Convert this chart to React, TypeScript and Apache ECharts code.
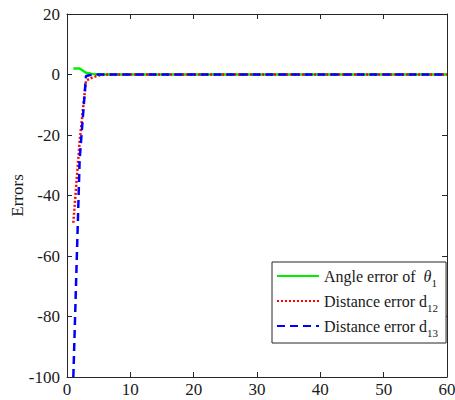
import React, { useEffect, useRef } from "react";
import * as echarts from "echarts";

const xValues = [
  1, 2, 3, 4, 5, 6, 7, 8, 9, 10, 11, 12, 13, 14, 15, 16, 17, 18, 19, 20,
  21, 22, 23, 24, 25, 26, 27, 28, 29, 30, 31, 32, 33, 34, 35, 36, 37, 38, 39, 40,
  41, 42, 43, 44, 45, 46, 47, 48, 49, 50, 51, 52, 53, 54, 55, 56, 57, 58, 59, 60,
];
const angleError = [
  2, 2, 0.6, 0.2, 0.1, 0, 0, 0, 0, 0, 0, 0, 0, 0, 0, 0, 0, 0, 0, 0,
  0, 0, 0, 0, 0, 0, 0, 0, 0, 0, 0, 0, 0, 0, 0, 0, 0, 0, 0, 0,
  0, 0, 0, 0, 0, 0, 0, 0, 0, 0, 0, 0, 0, 0, 0, 0, 0, 0, 0, 0,
];
const distError12 = [
  -49, -22, -2, -1, -0.3, 0, 0, 0, 0, 0, 0, 0, 0, 0, 0, 0, 0, 0, 0, 0,
  0, 0, 0, 0, 0, 0, 0, 0, 0, 0, 0, 0, 0, 0, 0, 0, 0, 0, 0, 0,
  0, 0, 0, 0, 0, 0, 0, 0, 0, 0, 0, 0, 0, 0, 0, 0, 0, 0, 0, 0,
];
const distError13 = [
  -100, -28, -0.5, 0, 0, 0, 0, 0, 0, 0, 0, 0, 0, 0, 0, 0, 0, 0, 0, 0,
  0, 0, 0, 0, 0, 0, 0, 0, 0, 0, 0, 0, 0, 0, 0, 0, 0, 0, 0, 0,
  0, 0, 0, 0, 0, 0, 0, 0, 0, 0, 0, 0, 0, 0, 0, 0, 0, 0, 0, 0,
];
const seriesNames = ["Angle error of θ1", "Distance error d12", "Distance error d13"];
const yAxisName = "Errors";

const FONT = "'Liberation Serif', 'Times New Roman', serif";
const AXIS_COLOR = "#262626";
const TEXT_COLOR = "#1a1a1a";

function pairs(ys: number[]) {
  return xValues.map((x, i) => [x, ys[i]]);
}

export default function App() {
  const ref = useRef<HTMLDivElement>(null);
  useEffect(() => {
    const chart = echarts.init(ref.current!, null, { renderer: "svg" });
    const axisCommon = {
      axisLine: { show: true, onZero: false, lineStyle: { color: AXIS_COLOR, width: 1 } },
      axisTick: { show: true, inside: true, length: 5, lineStyle: { color: AXIS_COLOR } },
      splitLine: { show: false },
    };
    chart.setOption({
      animation: false,
      backgroundColor: "#ffffff",
      grid: { left: 67, right: 8, top: 14, bottom: 23, containLabel: false, outerBoundsMode: "none" },
      xAxis: [
        {
          type: "value",
          min: 0,
          max: 60,
          interval: 10,
          ...axisCommon,
          axisLabel: { color: TEXT_COLOR, fontFamily: FONT, fontSize: 17, margin: 4 },
        },
        {
          type: "value",
          position: "top",
          min: 0,
          max: 60,
          interval: 10,
          ...axisCommon,
          axisLabel: { show: false },
        },
      ],
      yAxis: [
        {
          type: "value",
          min: -100,
          max: 20,
          interval: 20,
          name: yAxisName,
          nameLocation: "middle",
          nameGap: 41,
          nameMoveOverlap: false,
          nameTextStyle: { color: TEXT_COLOR, fontFamily: FONT, fontSize: 17 },
          ...axisCommon,
          axisLabel: { color: TEXT_COLOR, fontFamily: FONT, fontSize: 17, margin: 7 },
        },
        {
          type: "value",
          position: "right",
          min: -100,
          max: 20,
          interval: 20,
          ...axisCommon,
          axisLabel: { show: false },
        },
      ],
      legend: {
        left: 272,
        top: 262,
        orient: "vertical",
        backgroundColor: "#ffffff",
        borderColor: AXIS_COLOR,
        borderWidth: 1,
        padding: [6, 8, 5, 4],
        itemGap: 5,
        itemWidth: 42,
        itemHeight: 16,
        itemStyle: { opacity: 0 },
        textStyle: {
          fontFamily: FONT,
          fontSize: 16,
          color: TEXT_COLOR,
          rich: {
            t: { fontFamily: FONT, fontSize: 16, color: TEXT_COLOR },
            th: { fontFamily: FONT, fontSize: 16, fontStyle: "italic", color: TEXT_COLOR },
            s: { fontFamily: FONT, fontSize: 11, color: TEXT_COLOR, padding: [13, 0, 0, 0] },
          },
        },
        formatter: (name: string) => {
          if (name === seriesNames[0]) return "{t|Angle error of  }{th|θ}{s|1}";
          if (name === seriesNames[1]) return "{t|Distance error d}{s|12}";
          return "{t|Distance error d}{s|13}";
        },
        data: seriesNames,
      },
      series: [
        {
          name: seriesNames[0],
          type: "line",
          data: pairs(angleError),
          showSymbol: false,
          symbol: "none",
          color: "#00ee00",
          lineStyle: { color: "#00ee00", width: 2.5, type: "solid" },
          z: 2,
        },
        {
          name: seriesNames[1],
          type: "line",
          data: pairs(distError12),
          showSymbol: false,
          symbol: "none",
          color: "#ff0000",
          lineStyle: { color: "#ff0000", width: 2.5, type: [2, 2] },
          z: 3,
        },
        {
          name: seriesNames[2],
          type: "line",
          data: pairs(distError13),
          showSymbol: false,
          symbol: "none",
          color: "#0000ff",
          lineStyle: { color: "#0000ff", width: 2.5, type: [8, 5] },
          z: 4,
        },
      ],
    });
    return () => chart.dispose();
  }, []);
  return <div ref={ref} style={{ width: 455, height: 400, position: "absolute", left: 0, top: 0 }} />;
}
